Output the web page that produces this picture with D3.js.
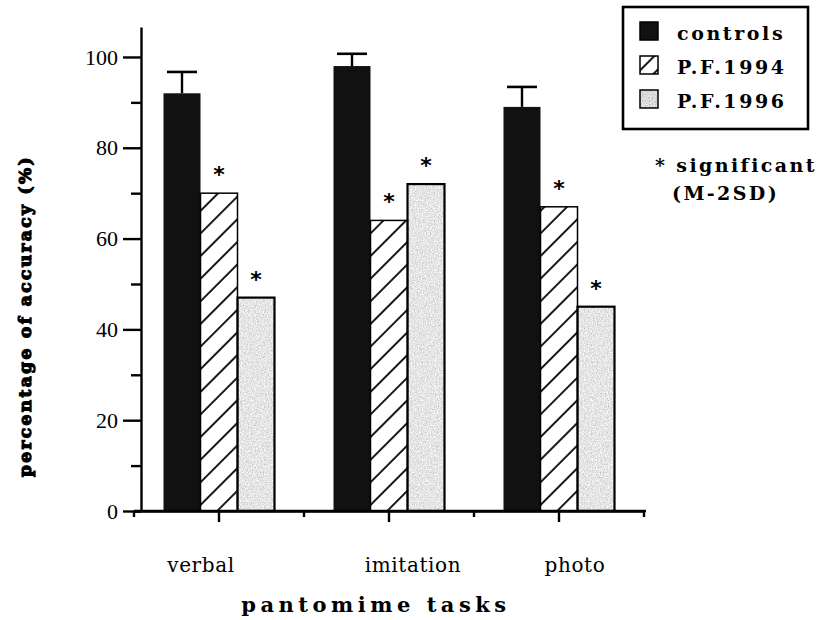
<!DOCTYPE html>
<html>
<head>
<meta charset="utf-8">
<script src="https://cdnjs.cloudflare.com/ajax/libs/d3/7.8.5/d3.min.js"></script>
<style>
  body { margin: 0; background: #fff; }
  .axis path, .axis line { stroke: #000; stroke-width: 2.4; }
  .axis text { font-family: "Liberation Serif", serif; font-size: 22px; fill: #000; }
</style>
</head>
<body>
<script>
// Data
var tasks = ["verbal", "imitation", "photo"];
var groups = ["controls", "P.F.1994", "P.F.1996"];
var controls = [92, 98, 89];
var controlsErr = [4.7, 2.7, 4.4];
var pf1994 = [70, 64, 67];
var pf1996 = [47, 72, 45];
var sig1994 = [true, true, true];
var sig1996 = [true, true, true];
var yTicks = [0, 20, 40, 60, 80, 100];
var yMinor = [10, 30, 50, 70, 90];

// label nudges (the scanned labels are not centred on the groups)
var labelShift = [-18, 24, 16];

var width = 821, height = 620;

var svg = d3.select("body").append("svg")
            .attr("width", width)
            .attr("height", height);

// Scales
var xScale = d3.scaleBand().domain(tasks).range([134, 644]),
    xSub = d3.scaleBand().domain(groups).range([-55.5, 55.5]),
    yScale = d3.scaleLinear().domain([0, 106.6]).range([511, 27]);

// patterns
var defs = svg.append("defs");
var hatch = defs.append("pattern")
   .attr("id", "hatch")
   .attr("patternUnits", "userSpaceOnUse")
   .attr("width", 16).attr("height", 16)
   .attr("patternTransform", "rotate(45)");
hatch.append("rect").attr("width", 16).attr("height", 16).attr("fill", "#fff");
hatch.append("line")
   .attr("x1", 8).attr("x2", 8).attr("y1", 0).attr("y2", 16)
   .attr("stroke", "#000").attr("stroke-width", 1.8);

var smallHatch = defs.append("pattern")
   .attr("id", "hatch-small")
   .attr("patternUnits", "userSpaceOnUse")
   .attr("width", 12).attr("height", 12)
   .attr("patternTransform", "rotate(45)");
smallHatch.append("rect").attr("width", 12).attr("height", 12).attr("fill", "#fff");
smallHatch.append("line")
   .attr("x1", 6).attr("x2", 6).attr("y1", 0).attr("y2", 12)
   .attr("stroke", "#000").attr("stroke-width", 1.8);

// speckled grey like the scan's stipple
function speckle(id, gain, offset) {
  var f = defs.append("filter").attr("id", id);
  f.append("feTurbulence")
   .attr("type", "fractalNoise")
   .attr("baseFrequency", 0.75)
   .attr("numOctaves", 2)
   .attr("seed", 4)
   .attr("result", "noise");
  f.append("feColorMatrix")
   .attr("in", "noise")
   .attr("type", "matrix")
   .attr("values", [gain, 0, 0, 0, offset, gain, 0, 0, 0, offset, gain, 0, 0, 0, offset, 0, 0, 0, 0, 1].join(" "))
   .attr("result", "grey");
  f.append("feComposite")
   .attr("in", "grey")
   .attr("in2", "SourceGraphic")
   .attr("operator", "in");
}
speckle("speckle", 0.75, 0.41);
speckle("speckle-dark", 0.8, 0.3);

var fills = {"controls": "#111", "P.F.1994": "url(#hatch)", "P.F.1996": "#c6c6c6"};
var strokeW = {"controls": 0, "P.F.1994": 1.5, "P.F.1996": 2.2};

var rows = tasks.map(function(t, i) {
  return {
    task: t,
    bars: [
      {group: "controls", value: controls[i], err: controlsErr[i], sig: false},
      {group: "P.F.1994", value: pf1994[i], err: 0, sig: sig1994[i]},
      {group: "P.F.1996", value: pf1996[i], err: 0, sig: sig1996[i]}
    ]
  };
});

// Draw bars
var groupSel = svg.selectAll(".task")
   .data(rows)
   .enter()
   .append("g")
   .attr("class", "task")
   .attr("transform", d => "translate(" + (xScale(d.task) + xScale.bandwidth() / 2) + ",0)");

// fill layer
groupSel.selectAll(".bar")
   .data(d => d.bars)
   .enter()
   .append("rect")
   .attr("class", "bar")
   .attr("x", d => xSub(d.group))
   .attr("y", d => yScale(d.value))
   .attr("width", xSub.bandwidth())
   .attr("height", d => yScale(0) - yScale(d.value))
   .attr("fill", d => fills[d.group])
   .attr("filter", d => d.group === "P.F.1996" ? "url(#speckle)" : null);

// outline layer
groupSel.selectAll(".bar-edge")
   .data(d => d.bars.filter(b => strokeW[b.group] > 0))
   .enter()
   .append("rect")
   .attr("class", "bar-edge")
   .attr("x", d => xSub(d.group))
   .attr("y", d => yScale(d.value))
   .attr("width", xSub.bandwidth())
   .attr("height", d => yScale(0) - yScale(d.value))
   .attr("fill", "none")
   .attr("stroke", "#000")
   .attr("stroke-width", d => strokeW[d.group]);

// error bars (controls only)
var errBars = groupSel.selectAll(".err")
   .data(d => d.bars.filter(b => b.err > 0))
   .enter()
   .append("g")
   .attr("class", "err");
errBars.append("line")
   .attr("x1", d => xSub(d.group) + xSub.bandwidth() / 2)
   .attr("x2", d => xSub(d.group) + xSub.bandwidth() / 2)
   .attr("y1", d => yScale(d.value))
   .attr("y2", d => yScale(d.value + d.err))
   .attr("stroke", "#000").attr("stroke-width", 2.4);
errBars.append("line")
   .attr("x1", d => xSub(d.group) + xSub.bandwidth() / 2 - 15)
   .attr("x2", d => xSub(d.group) + xSub.bandwidth() / 2 + 15)
   .attr("y1", d => yScale(d.value + d.err))
   .attr("y2", d => yScale(d.value + d.err))
   .attr("stroke", "#000").attr("stroke-width", 2.6);

// significance stars
groupSel.selectAll(".star")
   .data(d => d.bars.filter(b => b.sig))
   .enter()
   .append("text")
   .attr("class", "star")
   .attr("x", d => xSub(d.group) + xSub.bandwidth() / 2)
   .attr("y", d => yScale(d.value) - 11)
   .attr("text-anchor", "middle")
   .style("font-family", "'DejaVu Sans', sans-serif")
   .style("font-weight", "bold")
   .style("font-size", "22px")
   .text("*");

// Y axis with major and minor ticks
svg.append("g")
   .attr("class", "y axis")
   .attr("transform", "translate(141,0)")
   .call(d3.axisLeft(yScale).tickValues(yTicks).tickSize(18).tickSizeOuter(0).tickPadding(5));

svg.append("g")
   .attr("class", "y axis minor")
   .attr("transform", "translate(141,0)")
   .call(d3.axisLeft(yScale).tickValues(yMinor).tickSize(10).tickSizeOuter(0).tickFormat(""))
   .select(".domain").remove();

// X axis: long ticks at group centres, short ticks at group edges
svg.append("g")
   .attr("class", "x axis")
   .attr("transform", "translate(0," + yScale(0) + ")")
   .call(d3.axisBottom(xScale).tickSize(11).tickSizeOuter(0).tickFormat(""));

var edges = tasks.map(t => xScale(t)).concat([xScale.range()[1]]);
svg.selectAll(".edge-tick")
   .data(edges)
   .enter()
   .append("line")
   .attr("class", "edge-tick")
   .attr("x1", d => d).attr("x2", d => d)
   .attr("y1", yScale(0)).attr("y2", yScale(0) + 6)
   .attr("stroke", "#000").attr("stroke-width", 2.4);

svg.append("line")
   .attr("x1", xScale.range()[0]).attr("x2", xScale.range()[1] + 2)
   .attr("y1", yScale(0)).attr("y2", yScale(0))
   .attr("stroke", "#000").attr("stroke-width", 2.6);

// category labels
svg.selectAll(".cat-label")
   .data(tasks)
   .enter()
   .append("text")
   .attr("class", "cat-label")
   .attr("x", (d, i) => xScale(d) + xScale.bandwidth() / 2 + labelShift[i])
   .attr("y", 572)
   .attr("text-anchor", "middle")
   .style("font-family", "'DejaVu Serif', serif")
   .style("font-size", "20px")
   .style("letter-spacing", "0.6px")
   .text(d => d);

// axis titles
svg.append("text")
   .attr("x", 376).attr("y", 612)
   .attr("text-anchor", "middle")
   .style("font-family", "'DejaVu Serif', serif")
   .style("font-weight", "bold")
   .style("font-size", "21px")
   .style("letter-spacing", "4.5px")
   .text("pantomime tasks");

svg.append("text")
   .attr("transform", "translate(31,316) rotate(-90)")
   .attr("text-anchor", "middle")
   .style("font-family", "'DejaVu Serif', serif")
   .style("font-weight", "bold")
   .style("font-size", "17px")
   .style("letter-spacing", "2.4px")
   .style("stroke", "#000")
   .style("stroke-width", 1.2)
   .text("percentage of accuracy (%)");

// Legend
svg.append("rect")
   .attr("x", 623).attr("y", 7)
   .attr("width", 185).attr("height", 122)
   .attr("fill", "none")
   .attr("stroke", "#000")
   .attr("stroke-width", 2.6);

var legendFill = {"controls": "#111", "P.F.1994": "url(#hatch-small)", "P.F.1996": "#aaa"};
var legend = svg.selectAll(".legend")
   .data(groups)
   .enter()
   .append("g")
   .attr("class", "legend")
   .attr("transform", (d, i) => "translate(0," + (40 + i * 34) + ")");

legend.append("rect")
   .attr("x", 640).attr("y", -18)
   .attr("width", 18).attr("height", 18)
   .attr("fill", d => legendFill[d])
   .attr("filter", d => d === "P.F.1996" ? "url(#speckle-dark)" : null);

legend.append("rect")
   .attr("x", 640).attr("y", -18)
   .attr("width", 18).attr("height", 18)
   .attr("fill", "none")
   .attr("stroke", "#000")
   .attr("stroke-width", 1.5);

legend.append("text")
   .attr("x", 677).attr("y", 0)
   .style("font-family", "'DejaVu Serif', serif")
   .style("font-weight", "bold")
   .style("font-size", "19px")
   .style("letter-spacing", "2.6px")
   .text(d => d);

svg.append("text")
   .attr("x", 655).attr("y", 172)
   .style("font-family", "'DejaVu Serif', serif")
   .style("font-weight", "bold")
   .style("font-size", "19px")
   .style("letter-spacing", "2.4px")
   .text("* significant");

svg.append("text")
   .attr("x", 672).attr("y", 200)
   .style("font-family", "'DejaVu Serif', serif")
   .style("font-weight", "bold")
   .style("font-size", "19px")
   .style("letter-spacing", "2.4px")
   .text("(M-2SD)");
</script>
</body>
</html>
